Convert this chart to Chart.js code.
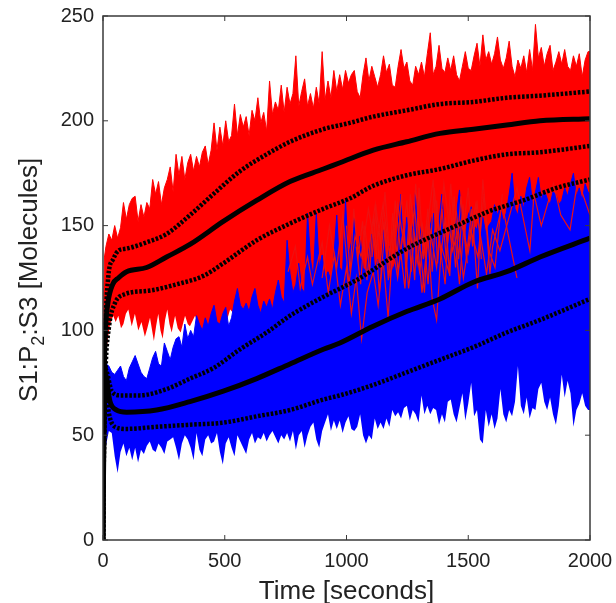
<!DOCTYPE html>
<html>
<head>
<meta charset="utf-8">
<title>S1:P2:S3</title>
<script src="https://cdn.jsdelivr.net/npm/chart.js@4"></script>
<style>
  html, body { margin: 0; padding: 0; background: #fff; }
  canvas { display: block; filter: blur(0.4px); }
</style>
</head>
<body>
<canvas id="chart" width="616" height="603"></canvas>
<script>
// ==================== DATA ====================
const xTicks = [0, 500, 1000, 1500, 2000];
const yTicks = [0, 50, 100, 150, 200, 250];

// sample times shared by the three jagged edges of the bands
const edgeT = [0,3,6,
    12,24,36,48,60,72,84,96,108,120,132,144,156,168,180,192,204,216,228,240,252,264,276,288,300,
    312,324,336,348,360,372,384,396,408,420,432,444,456,468,480,492,504,516,528,540,552,564,576,588,600,
    612,624,636,648,660,672,684,696,708,720,732,744,756,768,780,792,804,816,828,840,852,864,876,888,900,
    912,924,936,948,960,972,984,996,1008,1020,1032,1044,1056,1068,1080,1092,1104,1116,1128,1140,1152,1164,1176,1188,1200,
    1212,1224,1236,1248,1260,1272,1284,1296,1308,1320,1332,1344,1356,1368,1380,1392,1404,1416,1428,1440,1452,1464,1476,1488,1500,
    1512,1524,1536,1548,1560,1572,1584,1596,1608,1620,1632,1644,1656,1668,1680,1692,1704,1716,1728,1740,1752,1764,1776,1788,1800,
    1812,1824,1836,1848,1860,1872,1884,1896,1908,1920,1932,1944,1956,1968,1980,1992,2000];

const redTopV = [0,115,135,
    140,146,143,150,144,149,161,153,160,163,164,152,160,154,161,158,172,165,171,160,168,172,178,166,184,
    174,183,172,180,184,176,183,178,185,188,179,186,199,186,197,188,200,190,193,208,193,203,197,202,193,
    205,200,211,199,204,195,219,203,209,205,217,204,216,208,213,231,207,214,220,207,213,206,216,208,233,
    210,219,211,224,214,222,215,224,218,222,224,214,211,222,230,219,226,221,216,222,231,223,227,217,216,
    226,234,225,228,219,217,226,222,228,221,232,242,222,226,236,225,223,230,224,231,222,219,226,233,225,
    224,231,237,226,241,229,233,227,232,240,229,225,230,238,226,221,229,225,231,223,234,224,246,230,235,
    226,232,236,224,228,233,227,234,226,224,231,226,232,221,229,233,233];

const blueTopV = [0,60,78,
    84,83,80,79,81,83,78,76,82,85,88,84,80,78,77,82,87,90,84,83,94,90,86,92,96,
    97,92,103,96,100,97,107,103,100,106,102,108,112,104,103,108,111,102,106,114,120,112,110,113,109,
    116,120,112,108,114,111,115,110,118,124,116,113,143,127,118,122,132,120,118,156,134,125,156,130,136,
    125,128,124,135,155,130,128,162,135,142,154,132,145,130,128,138,146,128,134,126,148,130,140,128,132,
    150,165,138,154,135,150,167,140,150,134,138,150,156,140,152,165,145,138,150,142,156,167,148,145,155,
    159,150,148,155,154,146,150,152,160,155,159,152,156,165,175,158,155,164,158,168,173,160,166,173,162,
    167,163,160,166,165,160,162,168,164,170,175,164,168,162,170,166,165];

const blueBottomV = [0,0,20,
    45,52,51,40,32,42,46,40,44,38,44,37,43,41,45,47,43,42,46,44,41,47,48,49,44,
    38,46,50,48,44,38,51,43,40,48,50,46,47,51,42,36,46,49,44,40,50,47,44,41,48,
    51,46,49,48,51,47,50,52,49,46,50,48,51,47,52,43,50,52,44,50,54,56,48,44,52,
    56,60,52,57,53,57,51,56,59,53,52,54,60,50,46,50,48,58,53,56,53,58,54,62,59,
    61,58,63,64,57,62,60,56,69,60,64,60,63,62,55,60,56,66,67,60,56,63,70,57,65,
    75,59,62,48,46,62,54,60,53,58,72,60,56,62,59,66,83,64,60,68,58,63,62,72,75,
    66,62,68,60,55,64,79,68,76,70,54,62,65,70,64,62,62];

// lower edge of the red band, only seen in the white gap on the left
const redBottomT = [0,3,10,20,29,42,52,63,74,84,94,104,118,131,145,158,172,182,193,209,218,227,236,245,255,264,273,282,296,307,319,337,348,357,378,398,426,453,487,522,600,1000,2000];
const redBottomV = [0,50,85,96,103,107,104,107,101,103,108,110,102,108,100,104,97,101,106,95,102,108,100,96,105,110,103,99,107,101,99,107,103,102,107,101,95,105,96,110,100,105,130];

// the few red runs that show on top of the blue band
const redLineAT = [760,790,810,840,860,900,925,950,975,1000,1020,1040,1062,1085,1110,1130,1150,1171,1190,1210,1235,1255,1280,1300,1330,1352,1370,1390,1420,1450,1480,1510,1540,1565,1589,1600,1640,1660,1700];
const redLineAV = [128,140,120,135,122,142,118,136,112,130,108,125,96,118,128,112,134,106,140,125,150,120,145,128,152,115,105,140,128,158,125,148,135,165,127,140,160,148,125];
const redLineBT = [900,930,960,985,1010,1035,1060,1090,1120,1150,1185,1210,1245,1280,1310,1340,1370,1400,1435,1470,1500,1530,1575,1600,1630,1670,1700,1753,1770,1800,1850,1880,1918,1950,1985,2000];
const redLineBV = [125,150,130,155,122,145,135,158,138,160,130,160,135,158,118,150,130,170,138,152,137,160,127,148,138,155,168,138,165,150,170,155,148,172,160,155];
const redLineCT = [1040,1058,1075,1095,1112,1135,1158,1180,1200,1222,1240,1262,1290,1312,1335,1360,1382,1405,1425,1448,1470,1492,1515,1538,1560,1585,1610,1640];
const redLineCV = [140,122,150,128,155,118,148,125,162,138,120,165,132,150,122,168,142,122,160,130,164,135,158,120,172,138,130,165];
const redLineDT = [1000,1015,1030,1048,1066,1084,1100,1118,1136,1154,1172,1190,1208,1226,1244,1262,1280,1298,1316,1334,1352,1370,1388,1406,1424,1442,1460,1478,1496];
const redLineDV = [150,128,158,135,152,124,146,160,130,152,124,156,136,165,128,150,124,168,134,158,128,162,136,154,126,164,134,160,132];
const redLineET = [1105,1122,1140,1158,1176,1194,1212,1230,1248,1266,1284,1302,1320,1338,1356,1374,1392,1410,1428,1446,1464,1482,1500,1518,1536,1554];
const redLineEV = [135,158,142,166,136,150,128,145,162,128,170,140,118,155,172,132,158,134,170,144,122,150,168,140,162,134];

const redMeanT = [0,1,3,6,10,20,40,63,97,179,261,357,494,631,768,905,973,1110,1247,1384,1521,1658,1795,2000];
const redMeanV = [0,20,55,85,100,113,122,125,128,130,135,141,152,162,171,177,180,186,190,194,196,198,200,201];
const redHighT = [0,2,5,10,22,42,63,97,179,261,357,453,563,672,768,905,1014,1110,1247,1384,1521,1658,1795,2000];
const redHighV = [0,30,70,100,126,134,138,139,142,146,155,165,176,184,190,196,199,202,205,208,209,211,212,214];
const redLowT = [0,2,5,10,25,49,83,193,303,412,494,631,768,905,1014,1110,1247,1384,1521,1658,1795,2000];
const redLowV = [0,25,55,80,102,113,117,119,122,126,132,143,151,158,163,169,174,177,181,184,185,188];

const blueMeanT = [0,2,5,9,14,20,29,56,97,220,357,494,631,768,905,973,1110,1247,1384,1521,1658,1795,2000];
const blueMeanV = [0,30,60,78,78,72,66,62,61,62,66,71,77,84,91,94,102,109,115,123,128,135,144];
const blueHighT = [0,2,5,9,16,36,70,152,261,357,453,563,672,768,905,1041,1247,1452,1589,1726,1863,2000];
const blueHighV = [0,35,65,82,80,71,69,69,72,77,82,91,99,107,116,124,139,150,157,162,168,172];
const blueLowT = [0,2,5,10,16,29,49,97,220,357,494,631,768,905,973,1110,1247,1384,1521,1658,1795,2000];
const blueLowV = [0,25,50,68,66,58,54,53,54,55,56,59,62,67,69,74,80,86,92,99,105,115];

// ==================== CHART ====================
const FONT = "'Liberation Sans', Arial, sans-serif";
const AXIS_COLOR = "#3a3a3a";
const TEXT_COLOR = "#222222";

const toPoints = (ts, vs) => ts.map((t, i) => ({ x: t, y: vs[i] }));

function band(ts, vs, color, order) {
    return {
        data: toPoints(ts, vs),
        borderColor: color,
        backgroundColor: color,
        borderWidth: color === "#ffffff" ? 0 : 1,
        fill: "origin",
        order: order
    };
}

function trace(ts, vs, color, width, dash, order, smooth) {
    return {
        data: toPoints(ts, vs),
        borderColor: color,
        borderWidth: width,
        borderDash: dash,
        cubicInterpolationMode: smooth ? "monotone" : "default",
        fill: false,
        order: order
    };
}

// frame with inward ticks on all four sides, and the y title with its subscript
const framePlugin = {
    id: "frame",
    afterDraw(chart) {
        const { ctx, chartArea: a, scales } = chart;
        ctx.save();
        ctx.strokeStyle = AXIS_COLOR;
        ctx.lineWidth = 1.5;
        ctx.strokeRect(a.left, a.top, a.right - a.left, a.bottom - a.top);
        ctx.lineWidth = 1;
        ctx.beginPath();
        xTicks.forEach(t => {
            const x = scales.x.getPixelForValue(t);
            ctx.moveTo(x, a.bottom); ctx.lineTo(x, a.bottom - 5);
            ctx.moveTo(x, a.top); ctx.lineTo(x, a.top + 5);
        });
        yTicks.forEach(t => {
            const y = scales.y.getPixelForValue(t);
            ctx.moveTo(a.left, y); ctx.lineTo(a.left + 5, y);
            ctx.moveTo(a.right, y); ctx.lineTo(a.right - 5, y);
        });
        ctx.stroke();

        ctx.translate(37, 402);
        ctx.rotate(-Math.PI / 2);
        ctx.fillStyle = TEXT_COLOR;
        ctx.textBaseline = "alphabetic";
        ctx.font = "26px " + FONT;
        let cursor = 0;
        ctx.fillText("S1:P", cursor, 0);
        cursor += ctx.measureText("S1:P").width;
        ctx.font = "18px " + FONT;
        ctx.fillText("2", cursor, 7);
        cursor += ctx.measureText("2").width;
        ctx.font = "26px " + FONT;
        ctx.fillText(":S3 [Molecules]", cursor, 0);
        ctx.restore();
    }
};

new Chart(document.getElementById("chart"), {
    type: "scatter",
    data: {
        datasets: [
            trace(redMeanT, redMeanV, "#000000", 5, [], 1, true),
            trace(redHighT, redHighV, "#000000", 4.5, [2.6, 1.7], 2, true),
            trace(redLowT, redLowV, "#000000", 4.5, [2.6, 1.7], 3, true),
            trace(blueMeanT, blueMeanV, "#000000", 5, [], 4, true),
            trace(blueHighT, blueHighV, "#000000", 4.5, [2.6, 1.7], 5, true),
            trace(blueLowT, blueLowV, "#000000", 4.5, [2.6, 1.7], 6, true),
            trace(redLineAT, redLineAV, "#ee1010", 1.2, [], 7),
            trace(redLineBT, redLineBV, "#ee1010", 1.2, [], 8),
            trace(redLineCT, redLineCV, "#ee1010", 1.2, [], 9),
            trace(redLineDT, redLineDV, "#ee1010", 1.2, [], 10),
            trace(redLineET, redLineEV, "#ee1010", 1.2, [], 11),
            band(edgeT, blueBottomV, "#ffffff", 12),
            band(edgeT, blueTopV, "#0000ff", 13),
            band(redBottomT, redBottomV, "#ffffff", 14),
            band(edgeT, redTopV, "#ff0000", 15)
        ]
    },
    options: {
        responsive: false,
        animation: false,
        showLine: true,
        elements: { point: { radius: 0 }, line: { tension: 0 } },
        layout: { padding: { top: 16, right: 26 } },
        plugins: { legend: { display: false }, tooltip: { enabled: false } },
        scales: {
            x: {
                type: "linear",
                min: 0,
                max: 2000,
                afterFit: s => { s.height = 63; s.paddingLeft = 0; s.paddingRight = 0; },
                afterBuildTicks: s => { s.ticks = xTicks.map(v => ({ value: v })); },
                grid: { display: false, drawTicks: false },
                border: { display: false },
                ticks: { font: { family: FONT, size: 20 }, color: TEXT_COLOR, padding: 9, maxRotation: 0, callback: v => String(v) },
                title: { display: true, text: "Time [seconds]", font: { family: FONT, size: 26 }, color: TEXT_COLOR, padding: { top: 0, bottom: -4 } }
            },
            y: {
                min: 0,
                max: 250,
                afterFit: s => { s.width = 103; s.paddingTop = 0; s.paddingBottom = 0; },
                afterBuildTicks: s => { s.ticks = yTicks.map(v => ({ value: v })); },
                grid: { display: false, drawTicks: false },
                border: { display: false },
                ticks: { font: { family: FONT, size: 20 }, color: TEXT_COLOR, padding: 9 }
            }
        }
    },
    plugins: [framePlugin]
});
</script>
</body>
</html>
